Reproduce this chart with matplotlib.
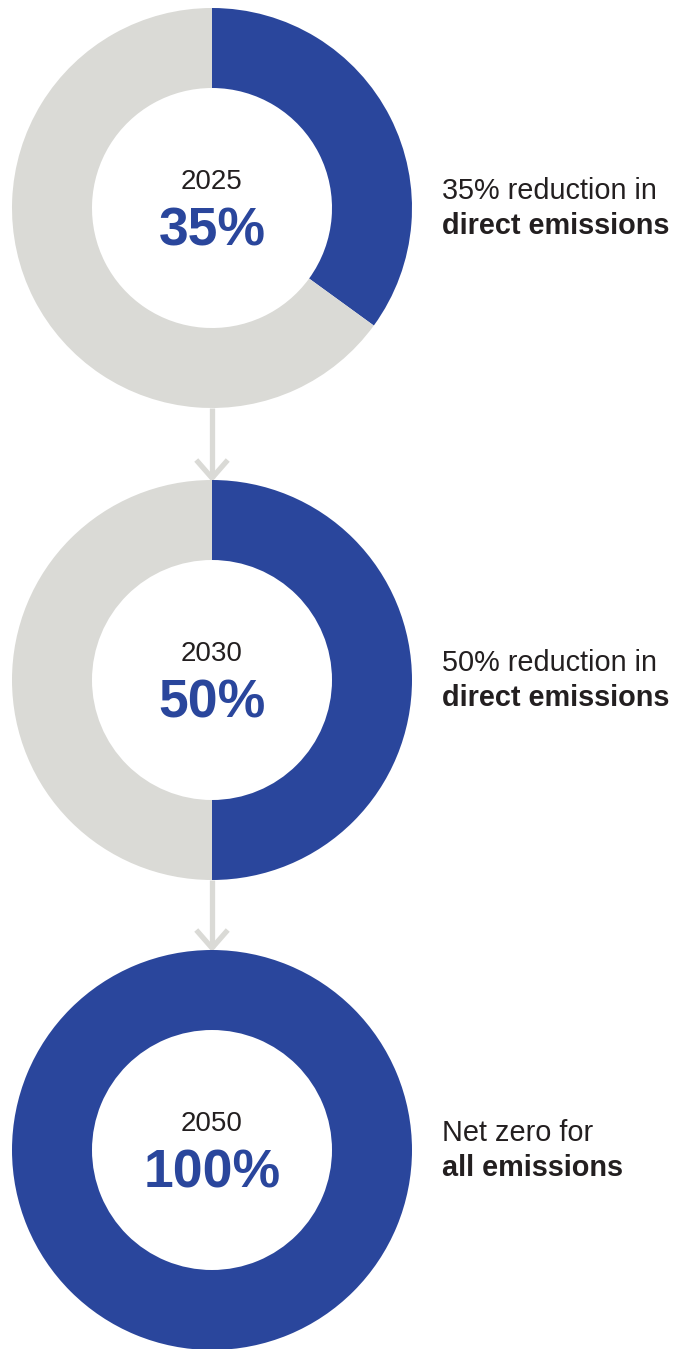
import matplotlib
matplotlib.use("Agg")
import matplotlib.pyplot as plt

years = ["2025", "2030", "2050"]
reductions = [35, 50, 100]
caption_top = ["35% reduction in", "50% reduction in", "Net zero for"]
caption_bold = ["direct emissions", "direct emissions", "all emissions"]

BLUE = "#2A469C"
GREY = "#DADAD6"
TEXT = "#231F20"

W, H = 688, 1349
plt.rcParams["font.family"] = ["Liberation Sans", "DejaVu Sans"]

fig = plt.figure(figsize=(W / 100, H / 100), dpi=100)
ax = fig.add_axes([0, 0, 1, 1])

cx = 212
centers = [208, 680, 1150]  # pixel rows, top-down
r_out, ring = 200, 80


def py(y):
    return H - y


for year, pct, top, bold, cy in zip(years, reductions, caption_top, caption_bold, centers):
    vals = [pct, 100 - pct] if pct < 100 else [100]
    ax.pie(vals, colors=[BLUE, GREY][:len(vals)], startangle=90, counterclock=False,
           center=(cx, py(cy)), radius=r_out, frame=True,
           wedgeprops=dict(width=ring, linewidth=0))
    ax.text(cx, py(cy - 26), year, ha="center", va="center", fontsize=20, color=TEXT)
    ax.text(cx, py(cy + 23), f"{pct}%", ha="center", va="center", fontsize=38.5,
            fontweight="bold", color=BLUE)
    ax.text(442, py(cy - 17), top, ha="left", va="center", fontsize=20.8, color=TEXT)
    ax.text(442, py(cy + 18), bold, ha="left", va="center", fontsize=20.8,
            fontweight="bold", color=TEXT)

# connector arrows between rings
for c0, c1 in zip(centers[:-1], centers[1:]):
    y0, y1 = c0 + r_out, c1 - r_out
    ax.plot([cx, cx], [py(y0), py(y1 - 2)], color=GREY, lw=3.8, solid_capstyle="butt", zorder=0)
    ax.plot([cx - 14, cx, cx + 14], [py(y1 - 18), py(y1 - 2), py(y1 - 18)],
            color=GREY, lw=3.8, solid_joinstyle="miter", zorder=0)

ax.set_xlim(0, W)
ax.set_ylim(0, H)
ax.set_aspect("equal")
ax.axis("off")
fig.savefig("out.png", dpi=100)
